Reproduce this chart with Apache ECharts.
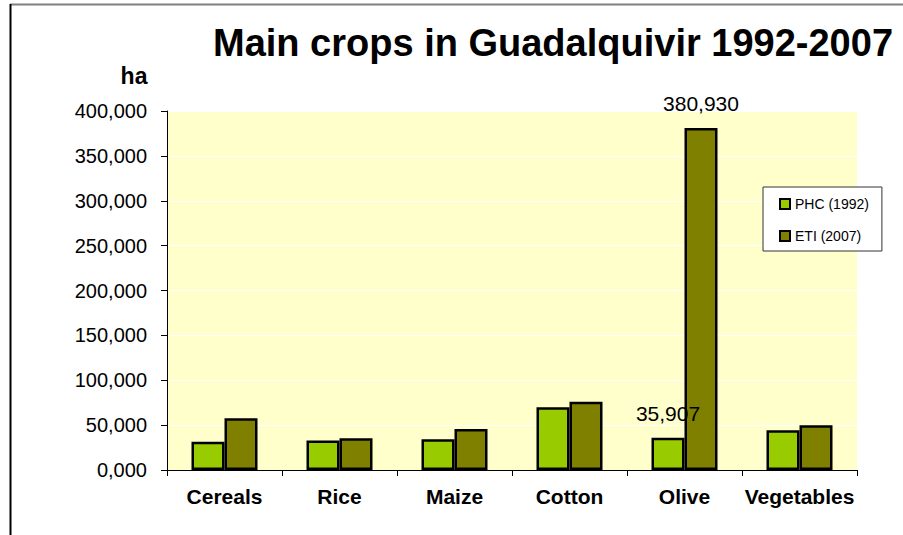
<!DOCTYPE html>
<html>
<head>
<meta charset="utf-8">
<title>Main crops in Guadalquivir 1992-2007</title>
<script src="https://cdn.jsdelivr.net/npm/echarts@6/dist/echarts.min.js"></script>
<style>
  html, body { margin: 0; padding: 0; background: #ffffff; }
  #chart { width: 903px; height: 535px; }
</style>
</head>
<body>
<div id="chart"></div>
<script>
// Crop areas (ha) for the Guadalquivir basin
const categories = ['Cereals', 'Rice', 'Maize', 'Cotton', 'Olive', 'Vegetables'];
const phc1992 = [31500, 33000, 34200, 69800, 35907, 44200];
const eti2007 = [57600, 35300, 45700, 76100, 380930, 49800];
const seriesNames = ['PHC (1992)', 'ETI (2007)'];
const yTicks = { min: 0, max: 400000, step: 50000 };
const labelledCategory = 'Olive';

const FONT = '"Liberation Sans", Arial, Helvetica, sans-serif';

// "400,000" style with a thousands comma, zero shown as "0,000"
function fmt(v) {
  const th = Math.floor(v / 1000);
  const rest = String(Math.round(v % 1000)).padStart(3, '0');
  return th + ',' + rest;
}

function buildData(values) {
  return values.map((v, i) => {
    if (categories[i] !== labelledCategory) return v;
    return {
      value: v,
      label: {
        show: true,
        position: 'top',
        distance: 14,
        formatter: p => fmt(p.value),
        color: '#000',
        fontFamily: FONT,
        fontSize: 21
      }
    };
  });
}

const chart = echarts.init(document.getElementById('chart'), null, { renderer: 'svg' });

chart.setOption({
  animation: false,
  backgroundColor: '#ffffff',
  textStyle: { fontFamily: FONT },
  title: {
    text: 'Main crops in Guadalquivir 1992-2007',
    left: 548,
    textAlign: 'center',
    top: 19,
    textStyle: { fontFamily: FONT, fontSize: 38, fontWeight: 'bold', color: '#000' }
  },
  graphic: [
    { type: 'line', shape: { x1: 10, y1: 4.5, x2: 903, y2: 4.5 }, style: { stroke: '#808080', lineWidth: 2 } },
    { type: 'line', shape: { x1: 10.5, y1: 4, x2: 10.5, y2: 535 }, style: { stroke: '#000000', lineWidth: 2 } },
    { type: 'text', x: 134, y: 76, style: { text: 'ha', font: 'bold 23px ' + FONT, fill: '#000', align: 'center', verticalAlign: 'middle' } }
  ],
  legend: {
    data: seriesNames,
    orient: 'vertical',
    left: 763,
    top: 187,
    padding: [10, 13, 8, 16],
    itemGap: 18,
    itemWidth: 10,
    itemHeight: 10,
    icon: 'rect',
    backgroundColor: '#ffffff',
    borderColor: '#333333',
    borderWidth: 1,
    textStyle: { fontFamily: FONT, fontSize: 14, color: '#000' }
  },
  grid: {
    left: 167, right: 46, top: 111, bottom: 65,
    show: true,
    backgroundColor: '#FFFFCC',
    borderWidth: 0,
    containLabel: false
  },
  xAxis: {
    type: 'category',
    data: categories,
    axisLine: { lineStyle: { color: '#000', width: 1 } },
    axisTick: { show: true, length: 6, lineStyle: { color: '#000' } },
    axisLabel: { interval: 0, margin: 16, color: '#000', fontFamily: FONT, fontSize: 21, fontWeight: 'bold' },
    splitLine: { show: false }
  },
  yAxis: {
    type: 'value',
    min: yTicks.min,
    max: yTicks.max,
    interval: yTicks.step,
    axisLine: { show: true, lineStyle: { color: '#000', width: 1 } },
    axisTick: { show: true, length: 6, lineStyle: { color: '#000' } },
    axisLabel: { margin: 20, color: '#000', fontFamily: FONT, fontSize: 20, formatter: fmt },
    splitLine: { show: true, lineStyle: { color: '#ffffff', width: 1 } }
  },
  series: [
    {
      name: seriesNames[0],
      type: 'bar',
      z: 3,
      data: buildData(phc1992),
      barWidth: 33,
      barGap: '0%',
      itemStyle: { color: '#99CC00', borderColor: '#000', borderWidth: 2.5 }
    },
    {
      name: seriesNames[1],
      type: 'bar',
      z: 2,
      data: buildData(eti2007),
      barWidth: 33,
      barGap: '0%',
      itemStyle: { color: '#808000', borderColor: '#000', borderWidth: 2.5 }
    }
  ]
});
</script>
</body>
</html>
